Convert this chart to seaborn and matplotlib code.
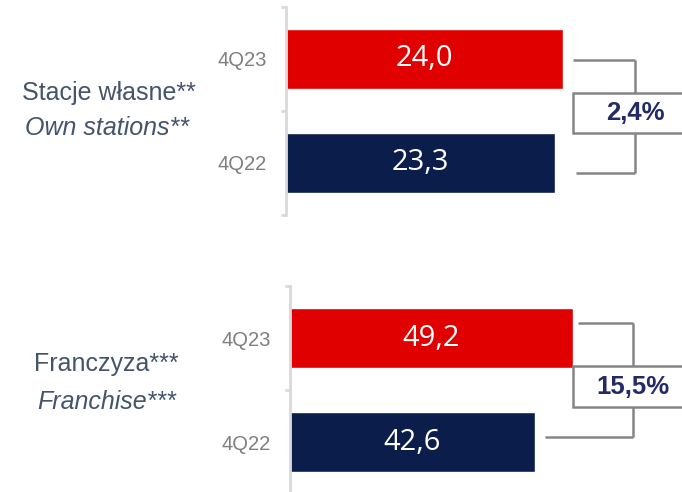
import matplotlib
matplotlib.use("Agg")
import matplotlib.pyplot as plt
import seaborn as sns
import pandas as pd
from matplotlib.lines import Line2D
from matplotlib.patches import Rectangle

# ---- data ----
periods = ["4Q23", "4Q22"]
own_values = [24.0, 23.3]
franchise_values = [49.2, 42.6]
growth_labels = ["2,4%", "15,5%"]
group_labels_pl = ["Stacje własne**", "Franczyza***"]
group_labels_en = ["Own stations**", "Franchise***"]

RED = "#E00000"
NAVY = "#0B1E4B"
GRAY_TXT = "#7F7F7F"
SPINE = "#D9D9D9"
LABEL = "#44546A"
PCT = "#232A66"
BRK = "#858585"

sns.set_style("white")
plt.rcParams["font.family"] = ["Liberation Sans", "DejaVu Sans"]

W, H = 682, 492
fig = plt.figure(figsize=(W / 100, H / 100), dpi=100)


def fx(x):
    return x / W


def fy(y):
    return 1 - y / H


def make_panel(left, top, bottom, width, values, xmax):
    ax = fig.add_axes([fx(left), fy(bottom), width / W, (bottom - top) / H])
    df = pd.DataFrame({"period": periods, "value": values})
    sns.barplot(data=df, y="period", x="value", hue="period", order=periods,
                hue_order=periods, palette=[RED, NAVY], width=0.577,
                saturation=1, legend=False, ax=ax)
    for c in ax.containers:
        ax.bar_label(c, labels=[f"{v:.1f}".replace(".", ",") for v in c.datavalues],
                     label_type="center", color="white", fontsize=21,
                     family=["Open Sans", "DejaVu Sans"])
    ax.set_xlim(0, xmax)
    ax.set_ylim(1.5, -0.5)
    for s in ["top", "right", "bottom"]:
        ax.spines[s].set_visible(False)
    ax.spines["left"].set_color(SPINE)
    ax.spines["left"].set_linewidth(2)
    ax.set_xticks([])
    ax.set_xlabel("")
    ax.set_ylabel("")
    ax.tick_params(axis="y", which="major", length=0, pad=14,
                   labelsize=14.5, labelcolor=GRAY_TXT)
    ax.set_yticks([-0.5, 0.5, 1.5], minor=True)
    ax.tick_params(axis="y", which="minor", left=True, length=3.6, width=2,
                   color=SPINE, direction="out")
    ax.patch.set_alpha(0)
    return ax


ax1 = make_panel(286, 7, 215, 396, own_values, 34.3)
ax2 = make_panel(290, 286, 494, 392, franchise_values, 68.2)


def line(x1, y1, x2, y2):
    fig.add_artist(Line2D([fx(x1), fx(x2)], [fy(y1), fy(y2)],
                          transform=fig.transFigure, color=BRK, lw=1.8,
                          solid_capstyle="butt"))


def bracket(x_up, y_up, x_low, y_low, xv, box_top, box_bot, label):
    line(x_up, y_up, xv, y_up)
    line(xv, y_up, xv, box_top)
    line(xv, box_bot, xv, y_low)
    line(x_low, y_low, xv, y_low)
    fig.add_artist(Rectangle((fx(573), fy(box_bot)), (690 - 573) / W,
                             (box_bot - box_top) / H, transform=fig.transFigure,
                             facecolor="white", edgecolor=BRK, lw=1.8))
    fig.text(fx(xv), fy((box_top + box_bot) / 2), label, ha="center",
             va="center", fontsize=18.5, fontweight="bold", color=PCT)


bracket(573, 60, 576, 173, 635, 93, 133, growth_labels[0])
bracket(578, 323, 545, 437, 633, 366, 407, growth_labels[1])

fig.text(fx(109), fy(93), group_labels_pl[0], ha="center", va="center",
         fontsize=18, color=LABEL)
fig.text(fx(107), fy(128), group_labels_en[0], ha="center", va="center",
         fontsize=18, color=LABEL, style="italic")
fig.text(fx(106), fy(364), group_labels_pl[1], ha="center", va="center",
         fontsize=18, color=LABEL)
fig.text(fx(107), fy(402), group_labels_en[1], ha="center", va="center",
         fontsize=18, color=LABEL, style="italic")

fig.savefig("out.png", dpi=100)
